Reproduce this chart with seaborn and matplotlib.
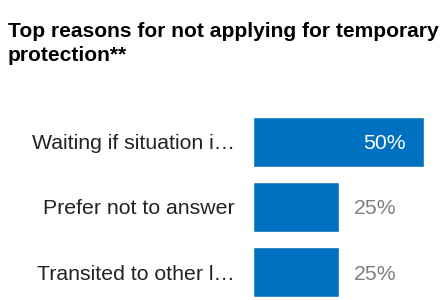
import matplotlib
matplotlib.use("Agg")
import matplotlib.pyplot as plt
import seaborn as sns
import pandas as pd

# データ
reasons = ["Waiting if situation i\u2026", "Prefer not to answer", "Transited to other l\u2026"]
shares = [50, 25, 25]
value_labels = ["50%", "25%", "25%"]

title_text = "Top reasons for not applying for temporary\nprotection**"
bar_color = "#0070c0"

sns.set_style("white")
plt.rcParams['font.family'] = ['Liberation Sans', 'DejaVu Sans']

df = pd.DataFrame({"reason": reasons, "share": shares})

fig = plt.figure(figsize=(4.48, 3.00), dpi=100)
ax = fig.add_axes([253 / 448, 0, 1 - 253 / 448, 190 / 300])

sns.barplot(data=df, x="share", y="reason", orient="h", color=bar_color,
            saturation=1, width=50 / 65, ax=ax)

ax.set_xlim(0, 57)
ax.set_ylim(2.43, -0.49)
ax.set_xlabel("")
ax.set_ylabel("")
ax.set_xticks([])
ax.tick_params(axis="y", length=0, pad=13, labelsize=15.3, labelcolor="#222222")
sns.despine(ax=ax, left=True, bottom=True, top=True, right=True)

# 値ラベル：長い棒は内側に白、短い棒は外側に灰色
for i, (v, lab) in enumerate(zip(shares, value_labels)):
    if v >= 40:
        ax.text(v - 5.2, i, lab, ha="right", va="center_baseline", color="white", fontsize=15.3)
    else:
        ax.text(v + 4.4, i, lab, ha="left", va="center_baseline", color="#7f7f7f", fontsize=15.3)

fig.text(8 / 448, 1 - 22 / 300, title_text, ha="left", va="top", fontsize=15.1,
         fontweight="bold", color="black", linespacing=1.35)

fig.savefig("out.png", dpi=100)
